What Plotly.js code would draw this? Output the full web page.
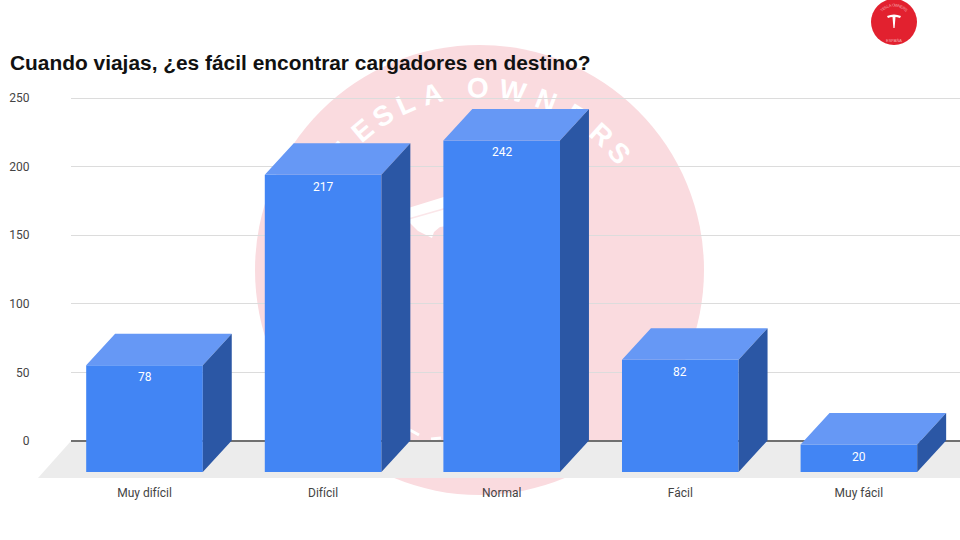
<!DOCTYPE html>
<html>
<head>
<meta charset="utf-8">
<script src="https://cdn.plot.ly/plotly-3.0.1.min.js"></script>
<style>html,body{margin:0;padding:0;background:#fff}#chart{width:960px;height:540px}</style>
</head>
<body>
<div id="chart"></div>
<script>
const categories = ['Muy difícil', 'Difícil', 'Normal', 'Fácil', 'Muy fácil'];
const answers = [78, 217, 242, 82, 20];
const gridTicks = [0, 50, 100, 150, 200, 250];
const wmLetters = ['T', 'E', 'S', 'L', 'A', 'O', 'W', 'N', 'E', 'R', 'S'];
const wmAngles = [-50, -40, -32, -24, -15, -0.5, 10.5, 21.5, 32, 42, 50];
const badgeLetters = ['T', 'E', 'S', 'L', 'A', 'O', 'W', 'N', 'E', 'R', 'S'];
const badgeAngles = [-46, -38, -30, -22, -14, -2, 8, 18, 27, 36, 45];

const W = 960, H = 540;
const FLOOR_FRONT = 478;   // px where the floor ends, x axis sits here
const UNIT_PX = 1.37;      // front plane px per answer

// pixel helpers for decoration that lives on the page and not on the axes
const px = x => x / W;
const py = y => 1 - y / H;
const pagePath = pts => pts.map(p => p.length === 2 ? `${px(p[0])} ${py(p[1])}` : p).join(' ');

// bar box sizes in axis units
const barWidth = 0.653;
const depthX = 0.162;
const depthY = 23;

const topX = [], topY = [], sideX = [], sideY = [];
answers.forEach((v, i) => {
    const l = i - barWidth / 2, r = i + barWidth / 2;
    topX.push(l, r, r + depthX, l + depthX, l, null);
    topY.push(v, v, v + depthY, v + depthY, v, null);
    sideX.push(r, r + depthX, r + depthX, r, r, null);
    sideY.push(0, depthY, v + depthY, v, 0, null);
});

const traces = [
    {
        // keeps the back plane axes alive
        x: [0, 1], y: [0, 0], xaxis: 'x', yaxis: 'y',
        type: 'scatter', mode: 'lines', line: { width: 0 }, hoverinfo: 'skip', showlegend: false
    },
    {
        x: topX, y: topY, xaxis: 'x2', yaxis: 'y2',
        type: 'scatter', mode: 'lines', fill: 'toself', fillcolor: '#6698f5',
        line: { width: 0 }, hoverinfo: 'skip', showlegend: false
    },
    {
        x: sideX, y: sideY, xaxis: 'x2', yaxis: 'y2',
        type: 'scatter', mode: 'lines', fill: 'toself', fillcolor: '#2b57a5',
        line: { width: 0 }, hoverinfo: 'skip', showlegend: false
    },
    {
        x: categories.map((c, i) => i), y: answers, xaxis: 'x2', yaxis: 'y2',
        type: 'bar', width: barWidth, marker: { color: '#4285f4' }, showlegend: false
    }
];

function ringLetter(ch, deg, cx, cy, radius, size, color, layer, bold) {
    const a = deg * Math.PI / 180;
    const x = cx + radius * Math.sin(a), y = cy - radius * Math.cos(a);
    return {
        type: 'rect', layer: layer, xref: 'paper', yref: 'paper',
        x0: px(x - 1), x1: px(x + 1), y0: py(y - 1), y1: py(y + 1),
        fillcolor: 'rgba(0,0,0,0)', line: { width: 0 },
        label: {
            text: bold ? `<b>${ch}</b>` : ch, textposition: 'middle center', textangle: deg,
            font: { family: 'Liberation Sans, Arial, sans-serif', size: size, color: color }
        }
    };
}

const shapes = [
    // watermark disc
    {
        type: 'circle', layer: 'below', xref: 'paper', yref: 'paper',
        x0: px(255), x1: px(704), y0: py(45), y1: py(495),
        fillcolor: '#fadbdf', line: { width: 0 }
    },
    // watermark T, only its left part shows between the bars
    {
        type: 'path', layer: 'below', xref: 'paper', yref: 'paper',
        path: pagePath(['M', [405, 209], 'L', [447, 196], 'L', [447, 226], 'L', [440, 227],
            'L', [434, 232], 'L', [432, 238], 'L', [418, 231], 'L', [405, 218], 'Z']),
        fillcolor: '#ffffff', line: { width: 0 }
    },
    {
        type: 'path', layer: 'below', xref: 'paper', yref: 'paper',
        path: pagePath(['M', [405, 220], 'L', [447, 208]]),
        line: { color: '#fbe6e9', width: 1.5 }
    },
    // bits of the lower ring text
    {
        type: 'path', layer: 'below', xref: 'paper', yref: 'paper',
        path: pagePath(['M', [410, 430], 'L', [419, 435]]),
        line: { color: '#ffffff', width: 3 }
    },
    {
        type: 'path', layer: 'below', xref: 'paper', yref: 'paper',
        path: pagePath(['M', [431, 439], 'L', [441, 438]]),
        line: { color: '#ffffff', width: 3 }
    },
    // floor
    {
        type: 'path', layer: 'below', xref: 'paper', yref: 'paper',
        path: pagePath(['M', [38, 478], 'L', [71, 441], 'L', [W, 441], 'L', [W, 478], 'Z']),
        fillcolor: '#ececec', line: { width: 0 }
    },
    // corner badge
    {
        type: 'circle', layer: 'above', xref: 'paper', yref: 'paper',
        x0: px(871), x1: px(917), y0: py(-1), y1: py(45),
        fillcolor: '#e2212f', line: { width: 0 }
    },
    {
        type: 'path', layer: 'above', xref: 'paper', yref: 'paper',
        path: pagePath(['M', [887, 16], 'Q', [894, 13], [901, 16], 'L', [900, 18], 'Q', [897, 17], [895.5, 17],
            'L', [894.6, 28], 'L', [893.4, 28], 'L', [892.5, 17], 'Q', [890, 17], [888, 18], 'Z']),
        fillcolor: '#ffffff', line: { width: 0 }
    }
];

wmLetters.forEach((ch, i) => {
    shapes.push(ringLetter(ch, wmAngles[i], 479.5, 270, 185, 28, '#ffffff', 'below', true));
});
badgeLetters.forEach((ch, i) => {
    shapes.push(ringLetter(ch, badgeAngles[i], 894, 22, 17, 4, '#f4a3a8', 'above', false));
});

// value labels sit 12px under the top edge of each front face
const annotations = answers.map((v, i) => ({
    x: i, y: v, xref: 'x2', yref: 'y2', yshift: -12,
    text: String(v), showarrow: false, xanchor: 'center', yanchor: 'middle',
    font: { family: 'Roboto, Arial, sans-serif', size: 12, color: '#ffffff' }
}));
annotations.push({
    x: px(894), y: py(40), xref: 'paper', yref: 'paper',
    text: 'ESPAÑA', showarrow: false, xanchor: 'center', yanchor: 'middle',
    font: { family: 'Liberation Sans, Arial, sans-serif', size: 4, color: '#f4a3a8' }
});

const layout = {
    width: W,
    height: H,
    margin: { l: 0, r: 0, t: 0, b: 0, pad: 0 },
    paper_bgcolor: '#ffffff',
    plot_bgcolor: 'rgba(0,0,0,0)',
    showlegend: false,
    barmode: 'overlay',
    title: {
        text: '<b>Cuando viajas, ¿es fácil encontrar cargadores en destino?</b>',
        x: 10 / W, xanchor: 'left', xref: 'paper',
        y: py(63), yanchor: 'middle', yref: 'paper',
        font: { family: 'Liberation Sans, Arial, sans-serif', size: 20.9, color: '#111111' }
    },
    // back plane: gridlines and value labels
    xaxis: { domain: [71 / W, 1], range: [0, 1], visible: false, fixedrange: true },
    yaxis: {
        domain: [py(FLOOR_FRONT), 1],
        range: [(441 - FLOOR_FRONT) / 1.372, 441 / 1.372],
        tickmode: 'array', tickvals: gridTicks,
        ticks: 'outside', ticklen: 38, tickcolor: 'rgba(0,0,0,0)',
        showgrid: true, gridcolor: '#dcdcdc', gridwidth: 1,
        zeroline: true, zerolinecolor: '#707070', zerolinewidth: 1.5,
        showline: false,
        tickfont: { family: 'Roboto, Arial, sans-serif', size: 12, color: '#444444' }
    },
    // front plane: the bars, mapped 1:1 to page pixels
    xaxis2: {
        anchor: 'y2', domain: [0, 1],
        range: [-144.5 / 178.6, (W - 144.5) / 178.6],
        tickmode: 'array', tickvals: categories.map((c, i) => i), ticktext: categories,
        ticks: 'outside', ticklen: 4, tickcolor: 'rgba(0,0,0,0)',
        showgrid: false, zeroline: false, showline: false,
        tickfont: { family: 'Roboto, Arial, sans-serif', size: 12, color: '#444444' }
    },
    yaxis2: {
        anchor: 'x2', domain: [py(FLOOR_FRONT), 1],
        range: [(472 - FLOOR_FRONT) / UNIT_PX, 472 / UNIT_PX],
        visible: false
    },
    shapes: shapes,
    annotations: annotations
};

Plotly.newPlot('chart', traces, layout, { displayModeBar: false, staticPlot: true });
</script>
</body>
</html>
